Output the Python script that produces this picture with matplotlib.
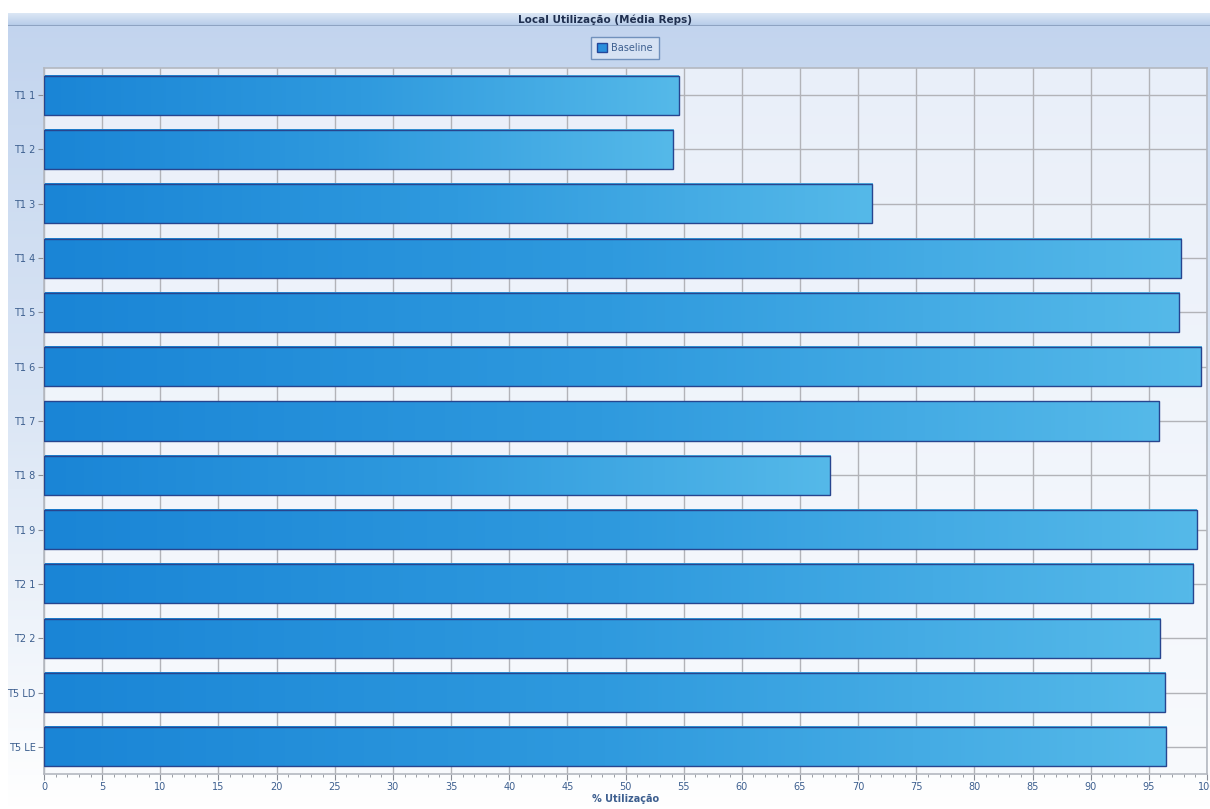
import numpy as np
import matplotlib.pyplot as plt
from matplotlib.colors import LinearSegmentedColormap
from matplotlib.patches import Rectangle

# data
categories = ["T1 1", "T1 2", "T1 3", "T1 4", "T1 5", "T1 6", "T1 7",
              "T1 8", "T1 9", "T2 1", "T2 2", "T5 LD", "T5 LE"]
utilizacao = [54.6, 54.1, 71.2, 97.8, 97.6, 99.5, 95.9,
              67.6, 99.1, 98.8, 96.0, 96.4, 96.5]
xticks = list(range(0, 101, 5))

title = "Local Utilização (Média Reps)"
xlabel = "% Utilização"
series_name = "Baseline"

txt_col = "#3d5f8f"
bar_cmap = LinearSegmentedColormap.from_list("bar", ["#1a85d6", "#2f9ade", "#55b9e9"])
bg_cmap = LinearSegmentedColormap.from_list("bg", ["#c2d4ee", "#dbe6f5", "#ffffff"])
plot_cmap = LinearSegmentedColormap.from_list("pl", ["#e9eff9", "#f8fafd"])
band_cmap = LinearSegmentedColormap.from_list("band", ["#dce7f5", "#b5cbe9"])

fig = plt.figure(figsize=(12.1, 8.09), dpi=100)
fig.patch.set_facecolor("white")

# background panel behind everything
bg = fig.add_axes([8 / 1210, 0, 1 - 8 / 1210, 1 - 13 / 809], zorder=-2)
bg.imshow(np.linspace(0, 1, 256).reshape(-1, 1), cmap=bg_cmap, aspect="auto",
          extent=(0, 1, 0, 1), vmin=0, vmax=1.0)
bg.set_axis_off()

# title band
band = fig.add_axes([8 / 1210, 1 - 26 / 809, 1 - 8 / 1210, 13 / 809], zorder=-1)
band.imshow(np.linspace(0, 1, 64).reshape(-1, 1), cmap=band_cmap, aspect="auto",
            extent=(0, 1, 0, 1))
band.axhline(0.02, color="#8ea3c2", lw=1.5)
band.set_axis_off()
fig.text(0.5, 1 - 19.5 / 809, title, ha="center", va="center",
         fontsize=7.5, fontweight="bold", color="#1f2f4f")

ax = fig.add_axes([44 / 1210, 1 - 774 / 809, (1207 - 44) / 1210, (774 - 68) / 809])
ypos = np.arange(len(categories))
ax.set_xlim(0, 100)
ax.set_ylim(len(categories) - 0.5, -0.5)

ax.imshow(np.linspace(0, 1, 256).reshape(-1, 1), cmap=plot_cmap, aspect="auto",
          extent=(0, 100, len(categories) - 0.5, -0.5), zorder=0)

ax.set_xticks(xticks)
ax.set_xticks(range(0, 101), minor=True)
ax.set_yticks(ypos)
ax.set_yticklabels(categories)
ax.grid(True, which="major", color="#b2b3b8", lw=1.0, zorder=1)
ax.set_axisbelow(True)

h = 0.72
grad = np.linspace(0, 1, 256).reshape(1, -1)
for y, v in zip(ypos, utilizacao):
    ax.imshow(grad, cmap=bar_cmap, aspect="auto",
              extent=(0, v, y + h / 2, y - h / 2), zorder=2)
    ax.add_patch(Rectangle((0, y - h / 2), v, h, facecolor="none",
                           edgecolor="#27458f", lw=1.0, zorder=3))
ax.set_xlim(0, 100)
ax.set_ylim(len(categories) - 0.5, -0.5)

for s in ax.spines.values():
    s.set_color("#b4b8c0")
    s.set_linewidth(1.2)
ax.tick_params(axis="both", labelsize=7, colors="#8a8e96", labelcolor=txt_col)
ax.tick_params(axis="x", which="major", length=4, pad=2)
ax.tick_params(axis="x", which="minor", length=2, color="#8a8e96")
ax.tick_params(axis="y", length=4, pad=2)
ax.set_xlabel(xlabel, fontsize=7, fontweight="bold", color=txt_col, labelpad=1)

# legend
leg_handle = Rectangle((0, 0), 1, 1, facecolor="#2a8fdc", edgecolor="#24479a")
leg = fig.legend([leg_handle], [series_name], loc="center",
                 bbox_to_anchor=(625 / 1210, 1 - 48 / 809), fontsize=7,
                 frameon=True, fancybox=False, handlelength=1.0, handleheight=1.0,
                 handletextpad=0.5, borderpad=0.6)
leg.get_frame().set_edgecolor("#5a7fb0")
leg.get_frame().set_facecolor("#dbe6f5")
leg.get_frame().set_linewidth(1.0)
for t in leg.get_texts():
    t.set_color(txt_col)

fig.savefig("out.png", dpi=100)
